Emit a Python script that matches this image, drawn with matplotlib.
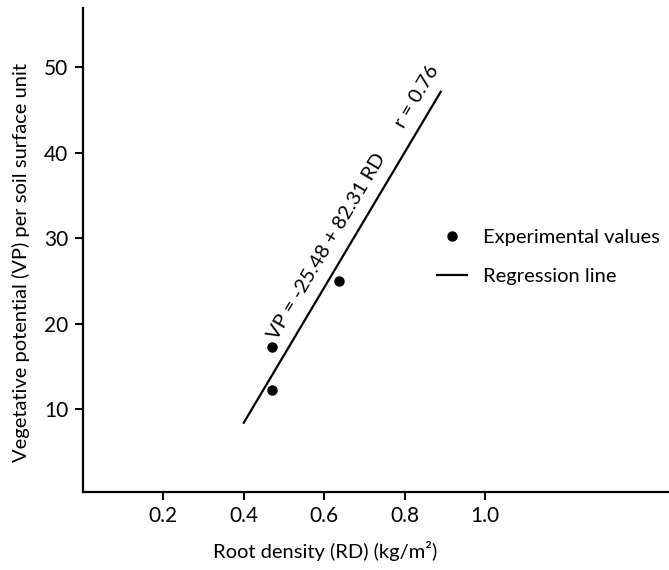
import numpy as np
import matplotlib
matplotlib.use("Agg")
import matplotlib.pyplot as plt

plt.rcParams['font.family'] = ['Lato', 'DejaVu Sans']

# Data
rd_points = [0.470, 0.470, 0.636]
vp_points = [12.2, 17.2, 25.0]
reg_x = [0.40, 0.89]
reg_y = [8.4, 47.1]
x_ticks = [0.2, 0.4, 0.6, 0.8, 1.0]
x_ticklabels = ["0.2", "0.4", "0.6", "0.8", "1.0"]
y_ticks = [10, 20, 30, 40, 50]
eq_text = "VP = -25.48 + 82.31 RD"
r_text = "r = 0.76"

W, H = 669, 570
FS = 14.5
fig = plt.figure(figsize=(W / 100, H / 100), dpi=100)
ax = fig.add_axes([83 / W, 1 - 492 / H, (W - 83) / W, (492 - 8) / H])

ax.set_xlim(0, 1.458)
ax.set_ylim(0.3, 56.9)

ax.plot(reg_x, reg_y, color='black', lw=1.6, label='Regression line', zorder=2)
ax.plot(rd_points, vp_points, 'o', color='black', ms=6.5, ls='none',
        label='Experimental values', zorder=3)

for s in ['top', 'right']:
    ax.spines[s].set_visible(False)
for s in ['left', 'bottom']:
    ax.spines[s].set_linewidth(1.6)

ax.set_xticks(x_ticks)
ax.set_xticklabels(x_ticklabels)
ax.set_yticks(y_ticks)
ax.tick_params(axis='both', direction='out', length=5.5, width=1.4, labelsize=15)
ax.tick_params(axis='x', pad=4.5)
ax.tick_params(axis='y', pad=5)

ax.set_xlabel("Root density (RD) (kg/m²)", fontsize=FS)
ax.xaxis.set_label_coords((325 - 83) / (W - 83), -0.101)
ax.set_ylabel("Vegetative potential (VP) per soil surface unit", fontsize=FS)
ax.yaxis.set_label_coords(-0.090, 0.475)

# text angle along regression line in screen coords
p0 = ax.transData.transform((reg_x[0], reg_y[0]))
p1 = ax.transData.transform((reg_x[1], reg_y[1]))
ang = np.degrees(np.arctan2(p1[1] - p0[1], p1[0] - p0[0]))
off = 13.5
dx = -np.sin(np.radians(ang)) * off
dy = np.cos(np.radians(ang)) * off

ax.annotate(eq_text, xy=(0.648, 27.85), xytext=(dx, dy), textcoords='offset points',
            rotation=ang, ha='center', va='center', rotation_mode='anchor', fontsize=FS)
ax.annotate(r_text, xy=(0.870, 45.45), xytext=(dx, dy), textcoords='offset points',
            rotation=ang, ha='center', va='center', rotation_mode='anchor', fontsize=FS)

leg = ax.legend(handles=ax.get_lines()[::-1], loc='center left',
                bbox_to_anchor=(437 / W, 1 - 257 / H), bbox_transform=fig.transFigure,
                frameon=False, fontsize=FS, handlelength=1.5, handletextpad=0.8,
                labelspacing=1.05, borderpad=0, borderaxespad=0)

fig.savefig("out.png", dpi=100)
